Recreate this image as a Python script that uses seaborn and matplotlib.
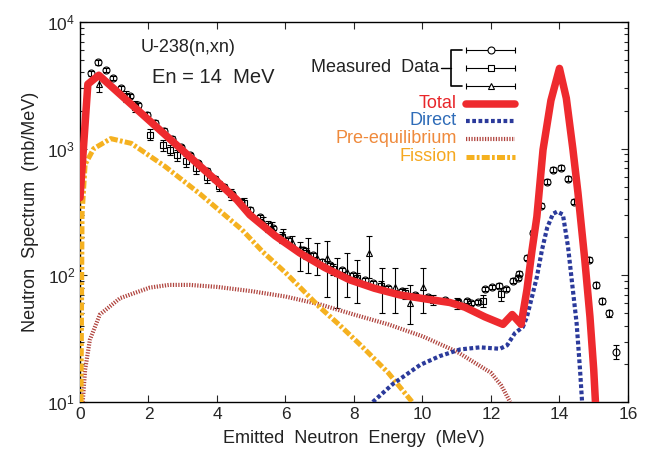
import numpy as np
import pandas as pd
import matplotlib
matplotlib.use("Agg")
import matplotlib.pyplot as plt
import seaborn as sns

# ---------------- data ----------------
total_E = [0.0, 0.23, 0.55, 2.0, 3.0, 4.0, 4.58, 4.96, 5.7, 6.42, 7.15, 7.88, 8.6, 9.34,
           10.1, 10.8, 11.24, 11.82, 12.35, 12.62, 12.88, 13.05, 13.2, 13.34, 13.52, 13.75,
           14.0, 14.2, 14.39, 14.54, 14.74, 14.89, 15.0, 15.05]
total_S = [410, 3230, 3800, 1690, 966, 552, 395, 300, 205, 150, 115, 92, 79, 70,
           65, 61, 56, 47, 41, 49, 41, 77, 159, 290, 980, 2400,
           4300, 2500, 1000, 447, 132, 47, 18, 10]

direct_E = [8.55, 9.14, 9.93, 10.5, 11.1, 11.68, 12.26, 12.47, 12.7, 12.93, 13.05, 13.2,
            13.34, 13.49, 13.64, 13.81, 13.93, 14.1, 14.25, 14.39, 14.5, 14.6, 14.66]
direct_S = [10, 13.9, 19.6, 23, 26, 27, 26.3, 28, 35, 39, 47, 68,
            97, 159, 237, 306, 318, 302, 168, 77, 42, 18, 10]

preeq_E = [0.08, 0.15, 0.29, 0.58, 1.17, 2.04, 2.6, 3.2, 4.0, 5.0, 6.0, 7.0, 8.0, 9.0,
           10.0, 11.0, 12.0, 12.3, 12.56]
preeq_S = [10, 18, 31, 49, 66, 80, 84, 84, 81, 75, 68, 59, 49, 41,
           33, 25, 17, 13.5, 10]

fission_E = [0.03, 0.06, 0.15, 0.4, 0.9, 1.5, 2.48, 3.5, 4.73, 5.34, 6.0, 7.0, 7.6, 8.26, 9.0, 9.7]
fission_S = [10, 300, 750, 1000, 1200, 1100, 725, 440, 229, 153, 105, 56, 40, 27, 17, 10]

# measured data set 1 (circles)
circ_E = [0.32, 0.53, 0.76, 0.96, 1.2, 1.45, 1.7, 1.95, 2.2, 2.45, 2.7, 2.95, 3.2, 3.45,
          3.7, 3.95, 4.2, 4.45, 4.7, 4.95, 5.26, 5.64, 6.07, 6.51, 6.8, 7.07, 7.3, 7.65,
          7.97, 8.32, 8.55, 9.0, 9.4, 9.78, 10.16, 10.66, 11.04, 11.3, 11.42, 11.62, 11.82,
          12.03, 12.23, 12.44, 12.64, 12.79, 12.82, 13.05, 13.23, 13.46, 13.64, 13.81,
          14.04, 14.25, 14.42, 14.86, 15.07, 15.24, 15.45, 15.65]
circ_S = [3920, 4790, 4200, 3620, 3000, 2600, 2200, 1850, 1600, 1380, 1200, 1030, 890, 770,
          670, 580, 500, 435, 380, 330, 288, 237, 190, 159, 145, 128, 121, 110,
          101, 92, 87, 79, 75, 70, 67.6, 64, 62, 62.8, 60.6, 61.7, 78,
          81, 83, 78, 90.5, 95.6, 103, 138, 217, 355, 550, 682,
          708, 580, 381, 133, 84, 63, 50, 25]
circ_err = [160, 200, 170, 150, 130, 110, 100, 85, 75, 65, 55, 48, 40, 35,
            30, 26, 23, 20, 17, 15, 12, 10, 8, 7, 6, 5.5, 5, 4.5,
            4.2, 4, 3.7, 3.4, 3.2, 3, 2.9, 2.8, 2.7, 2.7, 2.6, 2.7, 3.4,
            3.5, 3.6, 3.4, 4, 4.2, 4.5, 6, 9, 15, 23, 29,
            30, 25, 16, 6, 4.5, 3.8, 3.5, 3]

# measured data set 2 (squares)
sq_E = [1.35, 1.62, 2.04, 2.42, 2.63, 2.83, 3.1, 3.4, 3.7, 4.05, 4.4, 4.8, 5.5, 5.9,
        6.6, 7.4, 8.1, 8.8, 9.5, 10.3, 11.0, 11.77, 12.29]
sq_S = [2600, 2150, 1290, 1070, 980, 890, 800, 700, 600, 510, 440, 370, 245, 200,
        150, 112, 96, 82, 72, 64, 60, 63, 71]
sq_err = [250, 210, 130, 110, 95, 90, 80, 70, 60, 50, 44, 37, 24, 20,
          15, 11, 9, 8, 7, 6, 6, 7, 8]

# measured data set 3 (triangles)
tri_E = [0.55, 5.34, 5.61, 5.93, 6.19, 6.42, 6.66, 6.92, 7.21, 7.50, 7.80, 8.09, 8.44,
         8.82, 9.20, 9.64, 10.01]
tri_S = [3240, 264, 237, 209, 184, 165, 153, 138, 138, 105, 107, 97, 150,
         81, 81, 61, 81]
tri_lo = [2800, 240, 215, 190, 165, 108, 105, 100, 68, 55, 68, 60, 96,
          50, 50, 41, 50]
tri_hi = [3700, 290, 262, 230, 205, 184, 198, 180, 187, 138, 150, 133, 205,
          115, 115, 84, 115]

x_ticks = [0, 2, 4, 6, 8, 10, 12, 14, 16]
legend_labels = ["Total", "Direct", "Pre-equilibrium", "Fission"]

# ---------------- styling ----------------
sns.set_style("ticks")
plt.rcParams["font.family"] = ["Liberation Sans", "DejaVu Sans"]
plt.rcParams["mathtext.fontset"] = "custom"
plt.rcParams["mathtext.rm"] = "Liberation Sans"
plt.rcParams["mathtext.it"] = "Liberation Sans"

c_total = "#ee2a2e"
c_direct = "#2b3a9b"
c_preeq = "#b0443e"
c_fission = "#f5b120"
t_total = "#e8262a"
t_direct = "#2f6cb8"
t_preeq = "#ef8a3c"
t_fission = "#f5a820"

ls_direct = (0, (0.9, 0.6))
ls_preeq = (0, (0.3, 0.35))
ls_fission = (0, (1.6, 0.45, 0.55, 0.45))

fig = plt.figure(figsize=(6.45, 4.57), dpi=100)
ax = fig.add_axes([0.124, 0.1204, 0.8496, 0.8315])

# ---------------- measured data ----------------
ekw = dict(ecolor="black", elinewidth=0.8, capsize=2.5, capthick=0.8, mfc="none",
           mec="black", mew=0.8, ls="none", zorder=2)
ax.errorbar(circ_E, circ_S, yerr=circ_err, fmt="o", ms=5, **ekw)
ax.errorbar(sq_E, sq_S, yerr=sq_err, fmt="s", ms=4.5, **ekw)
tri_err = [np.array(tri_S) - np.array(tri_lo), np.array(tri_hi) - np.array(tri_S)]
ax.errorbar(tri_E, tri_S, yerr=tri_err, fmt="^", ms=5, **ekw)

# ---------------- calculated curves ----------------
df_pre = pd.DataFrame({"E": preeq_E, "S": preeq_S})
df_fis = pd.DataFrame({"E": fission_E, "S": fission_S})
df_dir = pd.DataFrame({"E": direct_E, "S": direct_S})
df_tot = pd.DataFrame({"E": total_E, "S": total_S})

sns.lineplot(data=df_pre, x="E", y="S", ax=ax, color=c_preeq, lw=3.0,
             linestyle=ls_preeq, dash_capstyle="butt", estimator=None, sort=False, zorder=3)
sns.lineplot(data=df_fis, x="E", y="S", ax=ax, color=c_fission, lw=3.6,
             linestyle=ls_fission, dash_capstyle="butt", estimator=None, sort=False, zorder=3)
sns.lineplot(data=df_dir, x="E", y="S", ax=ax, color=c_direct, lw=3.0,
             linestyle=ls_direct, dash_capstyle="butt", estimator=None, sort=False, zorder=4)
sns.lineplot(data=df_tot, x="E", y="S", ax=ax, color=c_total, lw=5.4,
             linestyle="-", estimator=None, sort=False, zorder=5)

# ---------------- axes ----------------
ax.set_yscale("log")
ax.set_xlim(0, 16)
ax.set_ylim(10, 1e4)
ax.set_xticks(x_ticks)
ax.set_xticklabels([str(t) for t in x_ticks])
ax.tick_params(which="both", direction="in", top=True, right=True, labelsize=12.5, width=0.8)
ax.tick_params(which="major", length=5)
ax.tick_params(which="minor", length=3)
ax.tick_params(axis="x", which="minor", bottom=False, top=False)
for s in ax.spines.values():
    s.set_linewidth(1.0)
    s.set_color("black")
ax.set_xlabel("Emitted  Neutron  Energy  (MeV)", fontsize=13, color="#222222", labelpad=6)
ax.set_ylabel("Neutron  Spectrum  (mb/MeV)", fontsize=13, color="#222222", labelpad=6)

# ---------------- annotations ----------------
ax.text(0.111, 0.934, "U-238(n,xn)", transform=ax.transAxes, fontsize=13,
        ha="left", va="center", color="#222222")
ax.text(0.131, 0.853, "En = 14  MeV", transform=ax.transAxes, fontsize=14.5,
        ha="left", va="center", color="#222222")

# ---------------- custom legend ----------------
T = ax.transAxes
def ax_x(px):
    return (px - 80) / 548.0
def ax_y(py):
    return (402 - py) / 380.0

ax.text(ax_x(439), ax_y(68), "Measured  Data", transform=T, fontsize=13,
        ha="right", va="center", color="#222222")
bx = ax_x(451)
ax.plot([ax_x(441), bx], [ax_y(68)] * 2, transform=T, color="black", lw=1.0, clip_on=False)
ax.plot([ax_x(462), bx, bx, ax_x(462)], [ax_y(50), ax_y(50), ax_y(86), ax_y(86)],
        transform=T, color="black", lw=1.2, clip_on=False)
for py, mk, ms in [(50, "o", 5), (68, "s", 4.5), (86, "^", 5)]:
    yy = ax_y(py)
    ax.plot([ax_x(466), ax_x(515)], [yy, yy], transform=T, color="black", lw=0.8)
    ax.plot([ax_x(466), ax_x(515)], [yy, yy], transform=T, ls="none", marker="|",
            ms=5, mew=0.8, color="black")
    ax.plot([ax_x(491)], [yy], transform=T, ls="none", marker=mk, ms=ms, mfc="white",
            mec="black", mew=0.8)

leg_rows = [
    (104, legend_labels[0], t_total, dict(color=c_total, lw=5.4, ls="-")),
    (121, legend_labels[1], t_direct, dict(color=c_direct, lw=3.0, ls=ls_direct,
                                           dash_capstyle="butt")),
    (139, legend_labels[2], t_preeq, dict(color=c_preeq, lw=3.0, ls=ls_preeq,
                                          dash_capstyle="butt")),
    (157, legend_labels[3], t_fission, dict(color=c_fission, lw=3.6, ls=ls_fission,
                                            dash_capstyle="butt")),
]
for py, lab, tc, lkw in leg_rows:
    yy = ax_y(py)
    ax.text(ax_x(457), yy, lab, transform=T, fontsize=13, ha="right", va="center", color=tc)
    ax.plot([ax_x(466), ax_x(515)], [yy, yy], transform=T, **lkw)

fig.savefig("out.png", dpi=100)
